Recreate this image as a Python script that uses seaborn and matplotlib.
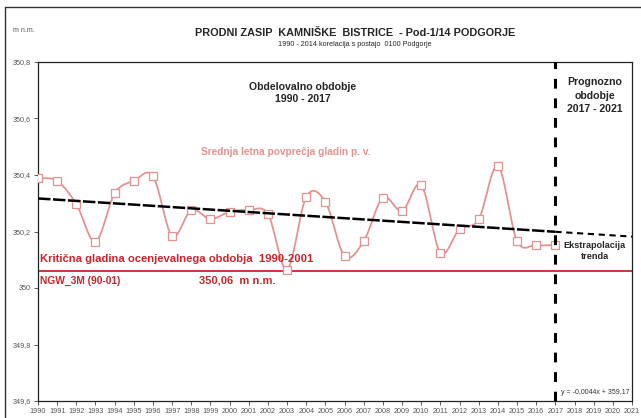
import numpy as np
import pandas as pd
import matplotlib
matplotlib.use("Agg")
import matplotlib.pyplot as plt
import seaborn as sns
from matplotlib.lines import Line2D

years = list(range(1990, 2018))
levels = [350.388, 350.379, 350.297, 350.164, 350.335, 350.379, 350.396, 350.184,
          350.276, 350.244, 350.270, 350.276, 350.262, 350.065, 350.323, 350.305,
          350.113, 350.166, 350.320, 350.273, 350.365, 350.125, 350.209, 350.243,
          350.432, 350.167, 350.152, 350.152]
trend_start = (1990, 350.317)
trend_end = (2017, 350.199)
extrap_end = (2021, 350.182)
critical_level = 350.06
forecast_year = 2017
x_ticks = list(range(1990, 2022))
y_ticks = [349.6, 349.8, 350.0, 350.2, 350.4, 350.6, 350.8]
y_tick_labels = ["349,6", "349,8", "350", "350,2", "350,4", "350,6", "350,8"]

sns.set_theme(style="white")
plt.rcParams['font.family'] = ['Liberation Sans', 'DejaVu Sans']

fig = plt.figure(figsize=(6.41, 4.18), dpi=100)
ax = fig.add_axes([38/641, 17/418, 594/641, 339/418])

# smooth (Excel-like) curve through the points
def smooth(x, y, n=20):
    x = np.asarray(x, float); y = np.asarray(y, float)
    xs, ys = [], []
    for i in range(len(x) - 1):
        p0 = max(i - 1, 0); p3 = min(i + 2, len(x) - 1)
        cx1 = x[i] + (x[i+1] - x[p0]) / 6; cy1 = y[i] + (y[i+1] - y[p0]) / 6
        cx2 = x[i+1] - (x[p3] - x[i]) / 6; cy2 = y[i+1] - (y[p3] - y[i]) / 6
        t = np.linspace(0, 1, n, endpoint=False)
        b = [(1-t)**3, 3*(1-t)**2*t, 3*(1-t)*t**2, t**3]
        xs.extend(b[0]*x[i] + b[1]*cx1 + b[2]*cx2 + b[3]*x[i+1])
        ys.extend(b[0]*y[i] + b[1]*cy1 + b[2]*cy2 + b[3]*y[i+1])
    xs.append(x[-1]); ys.append(y[-1])
    return np.array(xs), np.array(ys)

pink = "#e39392"
red = "#c9252d"
sx, sy = smooth(years, levels)
sns.lineplot(x=sx, y=sy, ax=ax, color=pink, lw=1.3, sort=False, zorder=3)
df = pd.DataFrame({"year": years, "level": levels})
sns.scatterplot(data=df, x="year", y="level", ax=ax, marker="s", s=28,
                facecolor="white", edgecolor=pink, linewidth=0.9, zorder=4)

# critical level
ax.axhline(critical_level, color=red, lw=1.3, zorder=2)

# trend
ax.plot([trend_start[0], trend_end[0]], [trend_start[1], trend_end[1]],
        color="black", lw=1.8, dashes=(5, 1), zorder=5)
ax.plot([trend_end[0], extrap_end[0]], [trend_end[1], extrap_end[1]],
        color="black", lw=1.5, dashes=(3, 2.2), zorder=5)

# forecast boundary
ax.axvline(forecast_year, color="black", lw=2.2, dashes=(3.2, 3.2), zorder=6)

ax.set_xlim(1990, 2021)
ax.set_ylim(349.6, 350.8)
ax.set_xticks(x_ticks)
ax.set_xticklabels([str(v) for v in x_ticks])
ax.set_yticks(y_ticks)
ax.set_yticklabels(y_tick_labels)
ax.tick_params(axis="both", labelsize=5.2, colors="#444444", length=3,
               width=0.6, direction="out", pad=2, bottom=True, left=True)
for lbl in ax.get_xticklabels() + ax.get_yticklabels():
    lbl.set_color("#555555")
for sp in ax.spines.values():
    sp.set_color("#222222"); sp.set_linewidth(0.9)
ax.set_xlabel(""); ax.set_ylabel("")

# texts
fig.text(355/641, 1-33/418, "PRODNI ZASIP  KAMNIŠKE  BISTRICE  - Pod-1/14 PODGORJE",
         ha="center", va="center", fontsize=7.8, fontweight="bold")
fig.text(355/641, 1-44/418, "1990 - 2014 korelacija s postajo  0100 Podgorje",
         ha="center", va="center", fontsize=5.2)
fig.text(13/641, 1-30/418, "m n.m.", ha="left", va="center", fontsize=5, color="#555555")

ax.text(2003.8, 350.69, "Obdelovalno obdobje\n1990 - 2017", ha="center", va="center",
        fontsize=7.6, fontweight="bold", linespacing=1.35)
ax.text(2019.05, 350.68, "Prognozno\nobdobje\n2017 - 2021", ha="center", va="center",
        fontsize=7.6, fontweight="bold", linespacing=1.45)
ax.text(1998.5, 350.48, "Srednja letna povprečja gladin p. v.", ha="left", va="center",
        fontsize=7.3, fontweight="bold", color=pink)
ax.text(1990.1, 350.102, "Kritična gladina ocenjevalnega obdobja  1990-2001", ha="left",
        va="center", fontsize=8.1, fontweight="bold", color=red)
ax.text(1990.1, 350.025, "NGW_3M (90-01)", ha="left", va="center",
        fontsize=7.4, fontweight="bold", color=red)
ax.text(1998.4, 350.025, "350,06  m n.m.", ha="left", va="center",
        fontsize=8.0, fontweight="bold", color=red)
ax.text(2019.05, 350.13, "Ekstrapolacija\ntrenda", ha="center", va="center",
        fontsize=6.6, fontweight="bold", linespacing=1.35)
ax.text(2017.3, 349.63, "y = -0,0044x + 359,17", ha="left", va="center",
        fontsize=5, color="#333333")

# outer frame
fig.add_artist(Line2D([5/641, 1.0], [1-7/418, 1-7/418], color="#333333", lw=1.0,
                      transform=fig.transFigure))
fig.add_artist(Line2D([5/641, 5/641], [0, 1-7/418], color="#333333", lw=1.0,
                      transform=fig.transFigure))

fig.savefig("out.png", dpi=100)
